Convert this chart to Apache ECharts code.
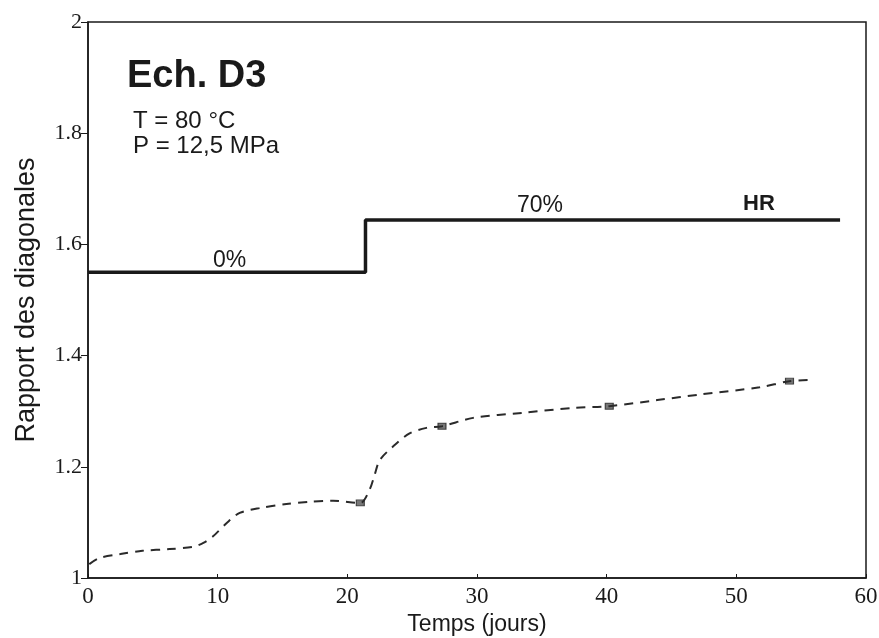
<!DOCTYPE html>
<html><head><meta charset="utf-8">
<script src="https://cdn.jsdelivr.net/npm/echarts@6/dist/echarts.min.js"></script>
<style>html,body{margin:0;padding:0;background:#fff}#c{width:879px;height:638px}</style>
</head><body><div id="c"></div>
<script>
// Step line: relative humidity conditions (0% then 70%)
const stepX = [0, 21.4, 21.4, 58];
const stepY = [1.55, 1.55, 1.644, 1.644];
// Dashed curve: rapport des diagonales vs temps
const curveX = [0.1, 0.9, 2.5, 4.2, 6.3, 8.1, 8.9, 9.6, 10.7, 11.7, 13.3, 15.3, 17.1, 18.9, 21.0, 21.7, 22.1, 22.5, 23.5, 24.8, 26.1, 27.3, 29.7, 33.5, 37.4, 40.2, 43.9, 47.2, 51.8, 54.1, 55.7];
const curveY = [1.025, 1.036, 1.043, 1.049, 1.052, 1.056, 1.063, 1.074, 1.099, 1.117, 1.126, 1.133, 1.137, 1.139, 1.135, 1.158, 1.185, 1.212, 1.236, 1.26, 1.27, 1.273, 1.288, 1.297, 1.306, 1.309, 1.32, 1.33, 1.343, 1.354, 1.356];
// Measurement markers
const markX = [21.0, 27.3, 40.2, 54.1];
const markY = [1.135, 1.273, 1.309, 1.354];
// Axis ticks
const xTicks = [0, 10, 20, 30, 40, 50, 60];
const yTicks = [1, 1.2, 1.4, 1.6, 1.8, 2];

const zip = (a, b) => a.map((v, i) => [v, b[i]]);
const chart = echarts.init(document.getElementById('c'));
const ink = '#1a1a1a';
chart.setOption({
  backgroundColor: '#fff',
  animation: false,
  grid: { left: 88, right: 13, top: 22, bottom: 60, show: true, borderColor: ink, borderWidth: 1.5,
    containLabel: false, outerBoundsMode: 'none' },
  xAxis: {
    type: 'value', min: xTicks[0], max: xTicks[xTicks.length - 1], interval: 10,
    name: 'Temps (jours)', nameLocation: 'middle', nameGap: 34,
    nameTextStyle: { fontFamily: 'Liberation Sans', fontSize: 23, color: ink },
    axisLine: { lineStyle: { color: ink, width: 1.5 } },
    axisTick: { inside: true, length: 4, lineStyle: { color: ink } },
    axisLabel: { fontFamily: 'Liberation Serif', fontSize: 23, color: ink, margin: 7 },
    splitLine: { show: false }
  },
  yAxis: {
    type: 'value', min: yTicks[0], max: yTicks[yTicks.length - 1], interval: 0.2,
    name: 'Rapport des diagonales', nameLocation: 'middle', nameGap: 48,
    nameTextStyle: { fontFamily: 'Liberation Sans', fontSize: 27, color: ink },
    axisLine: { lineStyle: { color: ink, width: 1.5 } },
    axisTick: { inside: false, length: 7, lineStyle: { color: ink } },
    axisLabel: { fontFamily: 'Liberation Serif', fontSize: 22, color: ink, margin: 6,
      formatter: v => (v === 1 || v === 2) ? String(v) : v.toFixed(1) },
    splitLine: { show: false }
  },
  series: [
    { type: 'line', data: zip(stepX, stepY), symbol: 'none', lineStyle: { color: ink, width: 3.5 } },
    { type: 'line', data: zip(curveX, curveY), symbol: 'none', smooth: 0.3,
      lineStyle: { color: '#2a2a2a', width: 2, type: [9, 7] } },
    { type: 'scatter', data: zip(markX, markY), symbol: 'rect', symbolSize: [8, 6],
      itemStyle: { color: '#555', borderColor: '#222', borderWidth: 1 } }
  ],
  graphic: [
    { type: 'text', left: 127, top: 58, style: { text: 'Ech. D3', fontFamily: 'Liberation Sans', fontWeight: 'bold', fontSize: 38, fill: ink } },
    { type: 'text', left: 133, top: 109, style: { text: 'T = 80 °C', fontFamily: 'Liberation Sans', fontSize: 24, fill: ink } },
    { type: 'text', left: 133, top: 134, style: { text: 'P = 12,5 MPa', fontFamily: 'Liberation Sans', fontSize: 24, fill: ink } },
    { type: 'text', left: 213, top: 249, style: { text: '0%', fontFamily: 'Liberation Sans', fontSize: 23, fill: ink } },
    { type: 'text', left: 517, top: 194, style: { text: '70%', fontFamily: 'Liberation Sans', fontSize: 23, fill: ink } },
    { type: 'text', left: 743, top: 193, style: { text: 'HR', fontFamily: 'Liberation Sans', fontWeight: 'bold', fontSize: 22, fill: ink } }
  ]
});
</script></body></html>
